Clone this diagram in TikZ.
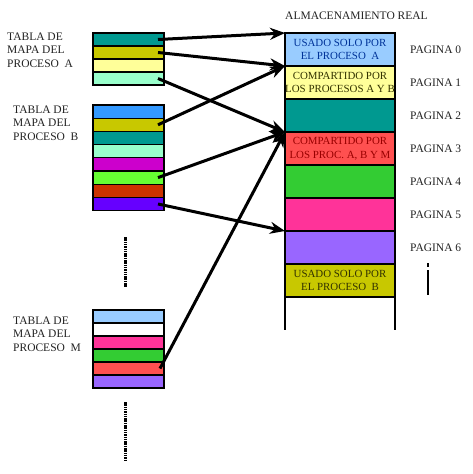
\documentclass[tikz,border=0pt]{standalone}
\usepackage{fontspec}
\setmainfont{Liberation Serif}
\usetikzlibrary{arrows.meta}
\definecolor{cteal}{HTML}{009990}
\definecolor{colive}{HTML}{C8C800}
\definecolor{cly}{HTML}{FFFF99}
\definecolor{caqua}{HTML}{99FFCC}
\definecolor{cblue}{HTML}{3399FF}
\definecolor{cmag}{HTML}{CC00CC}
\definecolor{cbgreen}{HTML}{66FF33}
\definecolor{cbrown}{HTML}{CC3300}
\definecolor{cviol}{HTML}{6600FF}
\definecolor{clblue}{HTML}{99CCFF}
\definecolor{cpink}{HTML}{FF3399}
\definecolor{cgreen}{HTML}{33CC33}
\definecolor{cred}{HTML}{FF5050}
\definecolor{clviol}{HTML}{9966FF}
\definecolor{tblue}{HTML}{003399}
\definecolor{tolive}{HTML}{333300}
\definecolor{tred}{HTML}{990000}
\definecolor{tgray}{HTML}{222222}
\begin{document}
\begin{tikzpicture}[x=1pt,y=-1pt,
  cell/.style={draw=black, line width=1.2pt, minimum width=71pt, minimum height=13pt, inner sep=0pt, outer sep=0pt, anchor=north west},
  page/.style={draw=black, line width=1.2pt, minimum width=110pt, minimum height=33pt, inner sep=0pt, outer sep=0pt, anchor=north west, align=center, font=\fontsize{10.9}{13.5}\selectfont},
  lbl/.style={font=\fontsize{11.5}{13.7}\selectfont, inner sep=0pt, anchor=west, text=tgray},
  tablelbl/.style={lbl, align=left},
  ptr/.style={line width=3pt, -{Stealth[length=15pt,width=12pt]}},
  dotline/.style={line width=3pt, dash pattern=on 1.5pt off 0.8pt},
  frame/.style={line width=1.2pt}]
\useasboundingbox (0,0) rectangle (472,474);

% Table A
\foreach \c [count=\i from 0] in {cteal,colive,cly,caqua}
  \node[cell, fill=\c] (a\i) at (93,{33+13*\i}) {};
% Table B
\foreach \c [count=\i from 0] in {cblue,colive,cteal,caqua,cmag,cbgreen,cbrown,cviol}
  \node[cell, fill=\c, minimum height=13.2pt] (b\i) at (93,{105+13.2*\i}) {};
% Table M
\foreach \c [count=\i from 0] in {clblue,white,cpink,cgreen,cred,clviol}
  \node[cell, fill=\c] (m\i) at (93,{310+13*\i}) {};

% labels
\node[tablelbl] (la) at (7,50) {TABLA DE\\MAPA DEL\\PROCESO\ \ A};
\node[tablelbl] (lb) at (13,123) {TABLA DE\\MAPA DEL\\PROCESO\ \ B};
\node[tablelbl] (lm) at (13,334) {TABLA DE\\MAPA DEL\\PROCESO\ \ M};

% Memory
\node[lbl] (title) at (285,16) {ALMACENAMIENTO REAL};
\node[page, fill=clblue, text=tblue] (p0) at (285,33) {USADO SOLO POR\\EL PROCESO\ \ A};
\node[page, fill=cly, text=tolive] (p1) at (285,66) {COMPARTIDO POR\\LOS PROCESOS A Y B};
\node[page, fill=cteal] (p2) at (285,99) {};
\node[page, fill=cred, text=tred] (p3) at (285,132) {COMPARTIDO POR\\LOS PROC. A, B Y M};
\node[page, fill=cgreen] (p4) at (285,165) {};
\node[page, fill=cpink] (p5) at (285,198) {};
\node[page, fill=clviol] (p6) at (285,231) {};
\node[page, fill=colive, text=tolive] (p7) at (285,264) {USADO SOLO POR\\EL PROCESO\ \ B};
\draw[frame] (p7.south west) -- ++(0,33);
\draw[frame] (p7.south east) -- ++(0,33);

\foreach \k in {0,...,6}
  \node[lbl] (g\k) at (410,{49.5+33*\k}) {PAGINA \k};

% vertical marks
\draw[line width=2pt] (428,263) -- (428,267);
\draw[line width=2pt] (428,270) -- (428,295);
\draw[dotline] (125,237) -- (125,287);
\draw[dotline] (125,402) -- (125,461);

% pointers
\draw[ptr] ([xshift=-6pt]a0.east) -- (p0.north west);
\draw[ptr] ([xshift=-6pt]a1.east) -- (p1.north west);
\draw[ptr] ([xshift=-6pt]a3.east) -- (p3.north west);
\draw[ptr] ([xshift=-6pt]b1.east) -- (p1.north west);
\draw[ptr] ([xshift=-6pt]b5.east) -- (p3.north west);
\draw[ptr] ([xshift=-6pt]b7.east) -- (p6.north west);
\draw[ptr] ([xshift=-4pt]m4.east) -- (p3.north west);
\end{tikzpicture}
\end{document}
